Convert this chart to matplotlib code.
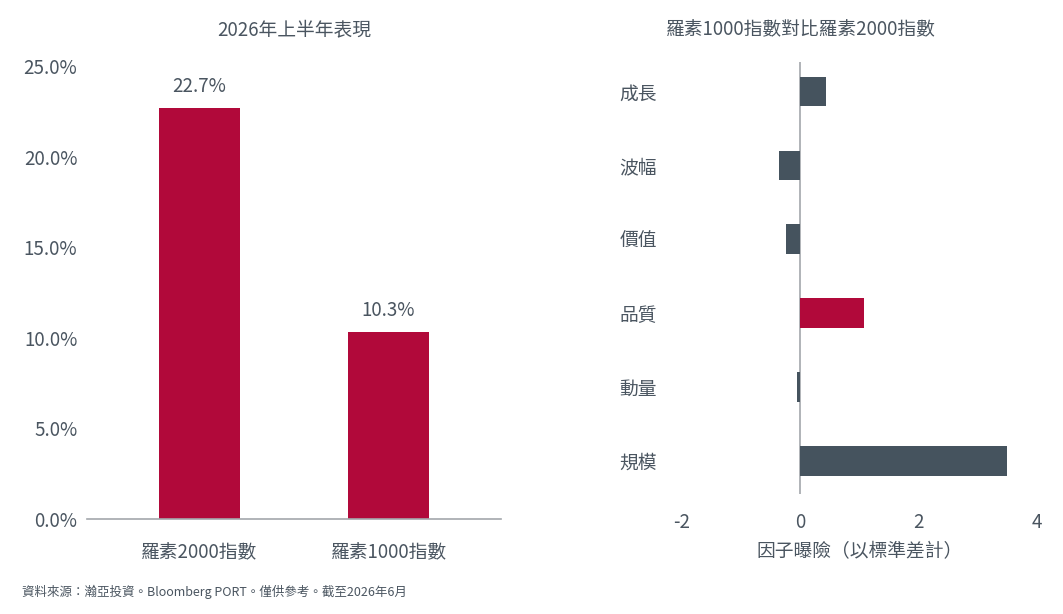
import matplotlib
matplotlib.use('Agg')
import matplotlib.pyplot as plt

plt.rcParams['font.family'] = ['Noto Sans CJK TC', 'DejaVu Sans']
plt.rcParams['axes.unicode_minus'] = False

# left chart: first-half performance
perf_labels = ['羅素2000指數', '羅素1000指數']
perf_values = [22.7, 10.3]

# right chart: factor exposure (std dev)
factor_labels = ['成長', '波幅', '價值', '品質', '動量', '規模']
factor_values = [0.44, -0.36, -0.25, 1.07, -0.06, 3.49]

red = '#B1093A'
slate = '#45535E'
txt = '#4A5560'
axis_gray = '#A3A7AB'

fig = plt.figure(figsize=(10.63, 6.14), dpi=100)

# ---- left: bar chart
ax1 = fig.add_axes([87/1063, 1-519/614, 414/1063, 453/614])
x = range(len(perf_values))
ax1.bar(x, perf_values, width=0.43, color=red)
ax1.set_xlim(-0.595, 1.595)
ax1.set_ylim(0, 25)
ax1.set_yticks([0, 5, 10, 15, 20, 25])
ax1.set_yticklabels(['%.1f%%' % v for v in [0, 5, 10, 15, 20, 25]])
ax1.set_xticks(list(x))
ax1.set_xticklabels(perf_labels)
for s in ['top', 'right', 'left']:
    ax1.spines[s].set_visible(False)
ax1.spines['bottom'].set_color(axis_gray)
ax1.spines['bottom'].set_linewidth(1.2)
ax1.tick_params(axis='y', length=0, pad=7, labelsize=13.5, labelcolor=txt)
ax1.tick_params(axis='x', length=0, pad=17, labelsize=13.5, labelcolor=txt)
for i, v in enumerate(perf_values):
    ax1.annotate('%.1f%%' % v, (i, v), xytext=(0, 8), textcoords='offset points',
                 ha='center', va='bottom', fontsize=13.5, color=txt, annotation_clip=False)
fig.text(294/1063, 1-30/614, '2026年上半年表現', ha='center', va='center', fontsize=13.5, color=txt)

# ---- right: horizontal bars
ax2 = fig.add_axes([682/1063, 1-494/614, 355/1063, 432/614])
y = range(len(factor_values))
colors = [red if lab == '品質' else slate for lab in factor_labels]
ax2.barh(y, factor_values, height=0.4, color=colors)
ax2.set_ylim(5.45, -0.4)
ax2.set_xlim(-2, 4)
ax2.set_xticks([-2, 0, 2, 4])
ax2.set_yticks(list(y))
ax2.set_yticklabels(factor_labels)
for s in ['top', 'right', 'left', 'bottom']:
    ax2.spines[s].set_visible(False)
ax2.axvline(0, color=axis_gray, linewidth=1.2, zorder=0)
ax2.tick_params(axis='y', length=0, pad=18, labelsize=13.5, labelcolor=txt)
ax2.tick_params(axis='x', length=0, pad=13, labelsize=13.5, labelcolor=txt)
ax2.set_xlabel('因子曝險（以標準差計）', fontsize=13.5, color=txt, labelpad=6)
fig.text(801/1063, 1-30/614, '羅素1000指數對比羅素2000指數', ha='center', va='center', fontsize=13.5, color=txt)

fig.text(22/1063, 1-592/614, '資料來源：瀚亞投資。Bloomberg PORT。僅供參考。截至2026年6月',
         ha='left', va='center', fontsize=9, color=txt)

fig.savefig('out.png', dpi=100)
